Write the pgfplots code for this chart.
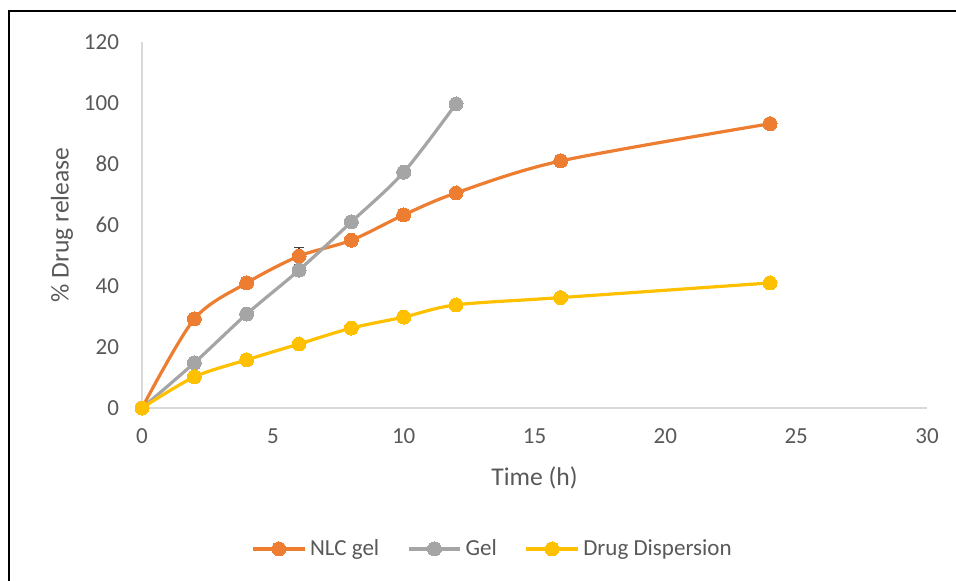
\documentclass[border=0pt]{standalone}
\usepackage{pgfplots}
\pgfplotsset{compat=1.18}
\usepackage{pgfplotstable}
\usepackage{fontspec}
\setmainfont{Carlito}

\definecolor{nlc}{HTML}{ED7D31}
\definecolor{gel}{HTML}{A5A5A5}
\definecolor{disp}{HTML}{FFC000}
\definecolor{txt}{HTML}{595959}
\definecolor{axl}{HTML}{D9D9D9}
\definecolor{errc}{HTML}{404040}

% time, release, error
\pgfplotstableread{
x y e
0 0 0
2 29.2 1.0
4 41.0 1.5
6 49.8 2.7
8 55.0 1.0
10 63.3 1.0
12 70.5 0.8
16 81.0 0.8
24 93.2 1.0
}\nlcdata
\pgfplotstableread{
x y e
0 0 0
2 14.8 1.0
4 30.8 0.8
6 45.2 0.8
8 61.0 1.0
10 77.3 0.8
12 99.7 0.5
}\geldata
\pgfplotstableread{
x y e
0 0 0
2 10.2 1.0
4 15.8 1.8
6 21.0 1.3
8 26.2 0.8
10 29.8 0.8
12 33.8 1.0
16 36.2 1.3
24 41.0 1.7
}\dispdata

\pgfplotsset{
  relplot/.style={line width=1.6pt, smooth, mark=*, mark size=3.5pt,
    mark options={fill=#1, draw=#1, line width=0pt}, color=#1,
    error bars/y dir=both, error bars/y explicit,
    error bars/error bar style={draw=errc, line width=0.6pt},
    error bars/error mark options={rotate=90, mark size=2.5pt, draw=errc, line width=0.6pt}},
}

\begin{document}
\begin{tikzpicture}
\useasboundingbox (0,0) rectangle (478pt,-290.5pt);
\draw[line width=1pt, black] (4.25pt,-291pt) -- (4.25pt,-5.5pt) -- (479pt,-5.5pt);
\begin{axis}[
  at={(71pt,-204pt)}, anchor=south west,
  scale only axis,
  width=392.5pt, height=183pt,
  xmin=0, xmax=30, ymin=0, ymax=120,
  xtick={0,5,...,30}, ytick={0,20,...,120},
  axis lines*=left,
  axis line style={draw=axl, line width=1pt},
  major tick length=0pt,
  tick label style={font=\fontsize{11.5}{13}\selectfont, text=txt},
  /pgf/number format/assume math mode=true,
  yticklabel style={xshift=-8pt},
  xticklabel style={yshift=-7pt},
  xlabel={Time (h)},
  ylabel={\% Drug release},
  label style={font=\fontsize{12.8}{15}\selectfont, text=txt},
  xlabel style={at={(axis description cs:0.5,-0.19)}, anchor=center},
  ylabel style={at={(axis description cs:-0.102,0.5)}, anchor=center},
  legend style={at={(axis description cs:0.448,-0.385)}, anchor=center,
    draw=none, legend columns=-1, font=\fontsize{11.5}{13}\selectfont, text=txt,
    /tikz/every even column/.append style={column sep=12pt}},
  legend image code/.code={
    \draw[mark repeat=2, mark phase=2] plot coordinates {(0cm,0cm) (0.45cm,0cm) (0.9cm,0cm)};
  },
]
\addplot[relplot=nlc] table[x=x, y=y, y error=e] {\nlcdata};
\addlegendentry{NLC gel}
\addplot[relplot=gel] table[x=x, y=y, y error=e] {\geldata};
\addlegendentry{Gel}
\addplot[relplot=disp] table[x=x, y=y, y error=e] {\dispdata};
\addlegendentry{Drug Dispersion}
\end{axis}
\end{tikzpicture}
\end{document}
